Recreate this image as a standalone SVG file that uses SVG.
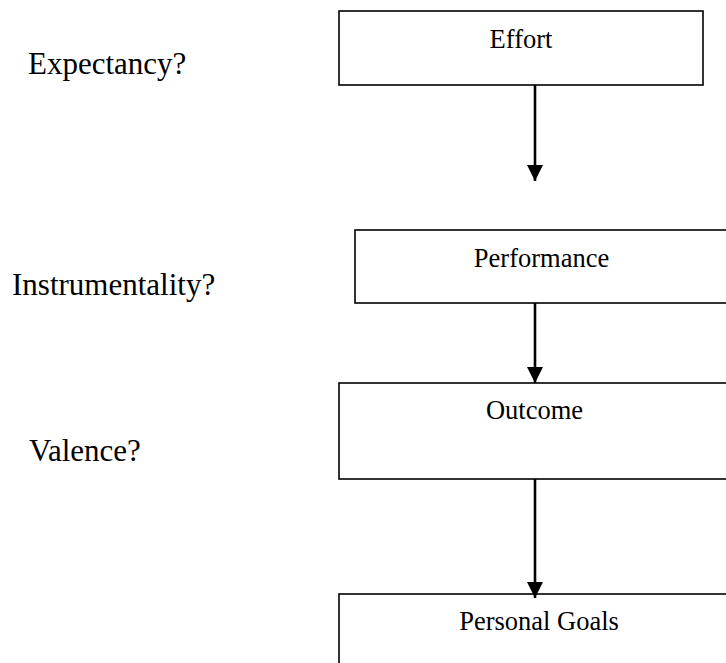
<svg xmlns="http://www.w3.org/2000/svg" width="726" height="663" viewBox="0 0 726 663">
<style>
.box{fill:#fff;stroke:#000;stroke-width:1.6}
.lbl{font-family:"Liberation Serif","Times New Roman",serif;font-size:26.5px;fill:#000;text-anchor:middle}
.q{font-family:"Liberation Serif","Times New Roman",serif;font-size:31px;fill:#000}
.conn{stroke:#000;stroke-width:2.6;fill:none}
</style>
<defs>
<marker id="ah" markerUnits="userSpaceOnUse" markerWidth="16" markerHeight="16" viewBox="0 0 16 16" refX="16" refY="8" orient="auto">
<path d="M0,0 L16,8 L0,16 Z" fill="#000"/>
</marker>
</defs>
<rect width="726" height="663" fill="#fff"/>
<g id="questions">
<text class="q" x="28" y="74">Expectancy?</text>
<text class="q" x="12" y="295">Instrumentality?</text>
<text class="q" x="29" y="461">Valence?</text>
</g>
<g id="effort">
<rect class="box" x="339" y="11" width="364" height="74"/>
<text class="lbl" x="521" y="48">Effort</text>
</g>
<g id="performance">
<rect class="box" x="355" y="230" width="380" height="73"/>
<text class="lbl" x="541.5" y="267">Performance</text>
</g>
<g id="outcome">
<rect class="box" x="339" y="383" width="400" height="96"/>
<text class="lbl" x="534.5" y="419">Outcome</text>
</g>
<g id="goals">
<rect class="box" x="339" y="594" width="400" height="100"/>
<text class="lbl" x="539" y="630">Personal Goals</text>
</g>
<g id="connectors">
<line class="conn" x1="535" y1="85" x2="535" y2="181" marker-end="url(#ah)"/>
<line class="conn" x1="535" y1="303" x2="535" y2="383" marker-end="url(#ah)"/>
<line class="conn" x1="535" y1="479" x2="535" y2="598" marker-end="url(#ah)"/>
</g>
</svg>
